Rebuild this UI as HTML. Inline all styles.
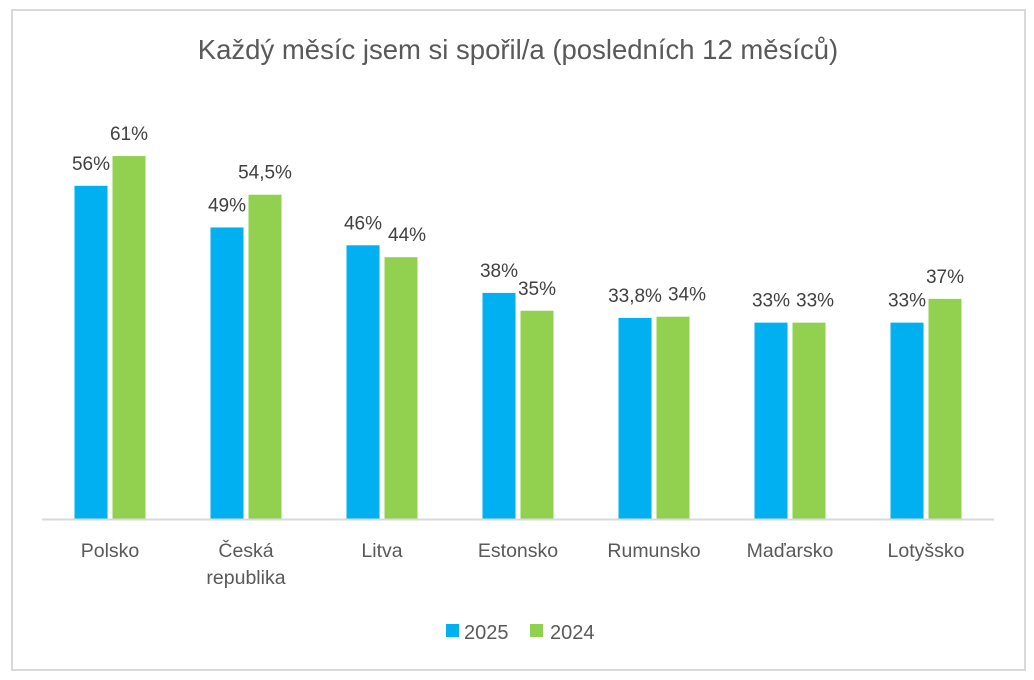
<!DOCTYPE html>
<html><head><meta charset="utf-8"><style>
body{margin:0;background:#fff;}
svg{display:block;font-family:"Liberation Sans",sans-serif;}
</style></head><body>
<svg id="chart" width="1034" height="680" xmlns="http://www.w3.org/2000/svg">
<rect x="12" y="10" width="1013" height="660" fill="#fff" stroke="#d9d9d9" stroke-width="2"/>
<text x="518" y="59" text-anchor="middle" font-size="27.5" fill="#595959">Každý měsíc jsem si spořil/a (posledních 12 měsíců)</text>
<g id="bars"></g>
<line x1="42" y1="519.5" x2="994" y2="519.5" stroke="#d9d9d9" stroke-width="2"/>
<g id="cats"></g>
<g>
<g><rect x="446" y="624" width="13" height="13" fill="#00B0F0"/><text x="464" y="639" font-size="20" fill="#595959">2025</text></g>
<g><rect x="530" y="624" width="13" height="13" fill="#92D050"/><text x="550" y="639" font-size="20" fill="#595959">2024</text></g>
</g>
</svg>
<script>
const categories = [["Polsko"],["Česká","republika"],["Litva"],["Estonsko"],["Rumunsko"],["Maďarsko"],["Lotyšsko"]];
const values2025 = [56, 49, 46, 38, 33.8, 33, 33];
const values2024 = [61, 54.5, 44, 35, 34, 33, 37];
const labels2025 = ["56%","49%","46%","38%","33,8%","33%","33%"];
const labels2024 = ["61%","54,5%","44%","35%","34%","33%","37%"];

const NS="http://www.w3.org/2000/svg";
const base=519, pxPer=5.95, x0=42, step=136, bw=33, gap=5;
const y = v => base - v*pxPer;
const xc = i => x0 + step*(i+0.5);
const bars=document.getElementById('bars'), cats=document.getElementById('cats');
function mk(tag, attrs, parent){const e=document.createElementNS(NS,tag);for(const k in attrs)e.setAttribute(k,attrs[k]);parent.appendChild(e);return e;}
categories.forEach((c,i)=>{
  const cx=xc(i);
  const made=[];
  [[values2025,labels2025,"#00B0F0",cx-gap/2-bw,"2025"],[values2024,labels2024,"#92D050",cx+gap/2,"2024"]].forEach(([vals,labs,col,bx,yr])=>{
    const r=mk('rect',{x:bx,y:y(vals[i]),width:bw,height:base-y(vals[i]),fill:col},bars);
    
    
    const t=mk('text',{x:bx+bw/2,y:y(vals[i])-16,'text-anchor':'middle','font-size':19,fill:'#404040'},bars);
    t.textContent=labs[i];
    
    
    made.push([t,bx+bw/2,vals[i]]);
  });
  // avoid overlap when labels are at similar heights
  const [a,b]=made;
  if(Math.abs(a[2]-b[2])<3){
    const wa=a[0].getComputedTextLength(), wb=b[0].getComputedTextLength();
    const overlap=(a[1]+wa/2+6)-(b[1]-wb/2);
    if(overlap>0) b[0].setAttribute('x', b[1]+overlap);
  }
  c.forEach((line,j)=>{
    const t=mk('text',{x:cx,y:557+j*27,'text-anchor':'middle','font-size':19.5,fill:'#595959'},cats);
    t.textContent=line;
    
    
  });
});
</script>
</body></html>
